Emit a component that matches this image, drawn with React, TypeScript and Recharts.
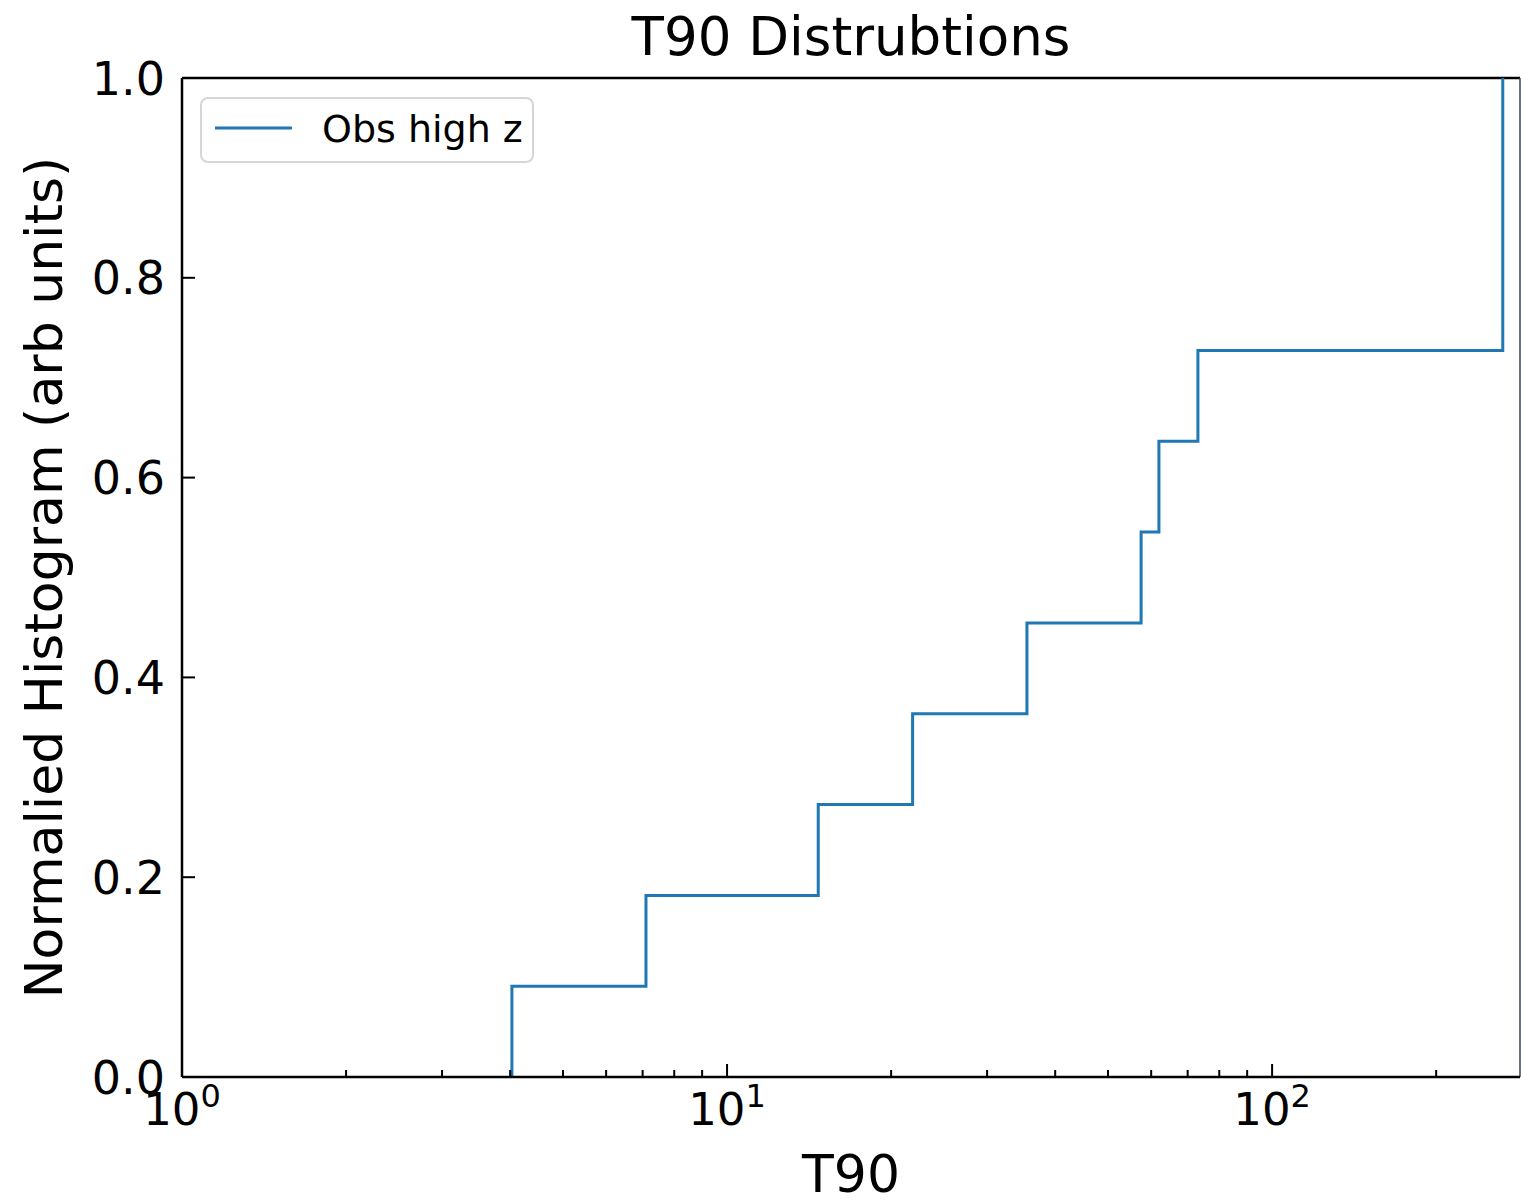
import { LineChart, Line, XAxis, YAxis, ReferenceLine, Legend } from "recharts";

// cumulative step points (T90 in s, fraction)
const t90 = [4.03, 4.03, 7.1, 14.7, 21.9, 35.5, 57.5, 62.0, 73.1, 265];
const frac = [0, 0.0909, 0.1818, 0.2727, 0.3636, 0.4545, 0.5455, 0.6364, 0.7273, 1.0];

const xMajor = [1, 10, 100];
const xTicks = [1, 2, 3, 4, 5, 6, 7, 8, 9, 10, 20, 30, 40, 50, 60, 70, 80, 90, 100, 200];
const yTicks = [0, 0.2, 0.4, 0.6, 0.8, 1.0];
const xMax = 285;

const data = t90.map((t, i) => ({ t90: t, frac: frac[i] }));

const FONT = "DejaVu Sans";
const BLUE = "#1f77b4";

function XTick(props: any) {
  const { x, y, payload } = props;
  const v = payload.value;
  const major = xMajor.includes(v);
  return (
    <g>
      <line x1={x} x2={x} y1={y} y2={y - (major ? 13 : 7)} stroke="#000" strokeWidth={2} />
      {major && (
        <text x={x} y={y + 48} textAnchor="middle" fontFamily={FONT} fontSize={45} fill="#000">
          10
          <tspan dy={-18} fontSize={32}>{Math.round(Math.log10(v))}</tspan>
        </text>
      )}
    </g>
  );
}

function YTick(props: any) {
  const { x, y, payload } = props;
  return (
    <g>
      <line x1={x} x2={x + 13} y1={y} y2={y} stroke="#000" strokeWidth={2} />
      <text x={x - 17} y={y} dy="0.36em" textAnchor="end" fontFamily={FONT} fontSize={46} fill="#000">
        {payload.value.toFixed(1)}
      </text>
    </g>
  );
}

function LegendBox() {
  return (
    <div
      style={{
        width: 330,
        height: 62,
        border: "2px solid #d6d6d6",
        borderRadius: 8,
        background: "#fff",
        position: "relative",
        fontFamily: FONT,
      }}
    >
      <svg width={90} height={62} style={{ position: "absolute", left: 0, top: 0 }}>
        <line x1={13} x2={90} y1={29} y2={29} stroke={BLUE} strokeWidth={3} />
      </svg>
      <span
        style={{
          position: "absolute",
          left: 120,
          top: 7,
          fontSize: 38,
          lineHeight: "46px",
          whiteSpace: "nowrap",
          color: "#000",
        }}
      >
        Obs high z
      </span>
    </div>
  );
}

export default function App() {
  return (
    <div>
      <style>{`body{margin:0;background:#fff}`}</style>
      <LineChart width={1521} height={1202} data={data} margin={{ top: 78, right: 1, left: 0, bottom: 0 }}>
        <XAxis
          dataKey="t90"
          type="number"
          scale="log"
          domain={[1, xMax]}
          allowDataOverflow
          ticks={xTicks}
          interval={0}
          tickSize={0}
          tickMargin={0}
          tick={<XTick />}
          height={125}
          axisLine={{ stroke: "#000", strokeWidth: 2.5 }}
          tickLine={false}
          label={{
            content: (p: any) => {
              const vb = p.viewBox;
              return (
                <text x={vb.x + vb.width / 2} y={1192} textAnchor="middle" fontFamily={FONT} fontSize={52} fill="#000">
                  T90
                </text>
              );
            },
          }}
        />
        <YAxis
          type="number"
          domain={[0, 1]}
          ticks={yTicks}
          interval={0}
          width={182}
          tickSize={0}
          tickMargin={0}
          tick={<YTick />}
          axisLine={{ stroke: "#000", strokeWidth: 2.5 }}
          tickLine={false}
          label={{
            content: (p: any) => {
              const vb = p.viewBox;
              const cy = vb.y + vb.height / 2;
              return (
                <text
                  x={62}
                  y={cy}
                  transform={`rotate(-90 62 ${cy})`}
                  textAnchor="middle"
                  fontFamily={FONT}
                  fontSize={52}
                  fill="#000"
                >
                  Normalied Histogram (arb units)
                </text>
              );
            },
          }}
        />
        <ReferenceLine
          y={1}
          stroke="#000"
          strokeWidth={2.5}
          label={{
            content: (p: any) => {
              const vb = p.viewBox;
              return (
                <text x={vb.x + vb.width / 2} y={vb.y - 23} textAnchor="middle" fontFamily={FONT} fontSize={53} fill="#000">
                  T90 Distrubtions
                </text>
              );
            },
          }}
        />
        <ReferenceLine x={xMax} stroke="#3a4650" strokeWidth={1.5} />
        <Line
          type="stepAfter"
          dataKey="frac"
          stroke={BLUE}
          strokeWidth={3}
          dot={false}
          isAnimationActive={false}
        />
        <Legend
          layout="vertical"
          align="center"
          verticalAlign="middle"
          content={<LegendBox />}
          wrapperStyle={{ left: 200, top: 97, width: "auto" }}
        />
      </LineChart>
    </div>
  );
}
